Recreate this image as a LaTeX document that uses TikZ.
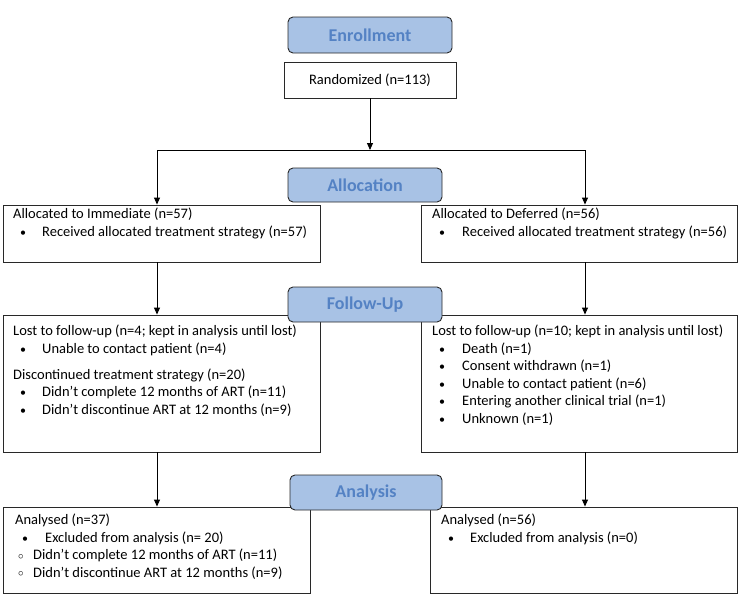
\documentclass[tikz,border=0pt]{standalone}
\usepackage{fontspec}
\setmainfont{Carlito}
\usetikzlibrary{arrows.meta}
\definecolor{lblfill}{RGB}{168,194,229}
\definecolor{lbltext}{RGB}{84,130,196}
\definecolor{edge}{RGB}{40,40,40}
\newcommand\bul{\hspace*{7pt}{\fontsize{12}{12}\selectfont\textbullet}}
\newcommand\cir[1]{\multicolumn{2}{@{}l@{}}{\makebox[18pt][l]{\hspace*{3pt}\raisebox{0.5pt}{\fontsize{11}{11}\selectfont$\circ$}}#1}}
\begin{document}
\begin{tikzpicture}[x=1pt,y=-1pt,
  box/.style={draw=edge,line width=0.9pt,fill=white,inner sep=0pt},
  lbl/.style={draw=edge,line width=0.9pt,fill=lblfill,rounded corners=5pt,
     inner sep=0pt,text=lbltext,font=\fontsize{18}{20}\selectfont\bfseries},
  txt/.style={anchor=base west,inner sep=0pt,font=\fontsize{14.5}{17.5}\selectfont},
  arr/.style={-{Triangle[width=6pt,length=7pt]},line width=0.9pt},
  ln/.style={line width=0.9pt}]
\useasboundingbox (0,0) rectangle (740,600);
% boxes
\node[box,minimum width=172pt,minimum height=36pt,font=\fontsize{14.5}{17.5}\selectfont] (rand) at (370,80) {Randomized (n=113)};
\node[box,minimum width=317pt,minimum height=57pt] (immL) at (161.5,233.5) {};
\node[box,minimum width=316pt,minimum height=57pt] (defR) at (579,233.5) {};
\node[box,minimum width=317pt,minimum height=137pt] (fuL) at (161.5,383.5) {};
\node[box,minimum width=316pt,minimum height=137pt] (fuR) at (579,383.5) {};
\node[box,minimum width=307pt,minimum height=86pt] (anL) at (156.5,550) {};
\node[box,minimum width=307pt,minimum height=86pt] (anR) at (583.5,550) {};
% labels
\node[lbl,minimum width=164pt,minimum height=36pt] (enroll) at (370,35) {Enrollment};
\node[lbl,minimum width=154pt,minimum height=34pt] (alloc) at (365,185) {Allocation};
\node[lbl,minimum width=154pt,minimum height=35pt] (follow) at (365,304.5) {Follow-Up};
\node[lbl,minimum width=152pt,minimum height=35pt] (analysis) at (366,492.5) {Analysis};
% texts
\node[txt] (timm) at (13,218.5) {\begin{tabular}[t]{@{}p{29pt}@{}l@{}}
\multicolumn{2}{@{}l@{}}{Allocated to Immediate (n=57)}\\
\bul & Received allocated treatment strategy (n=57)
\end{tabular}};
\node[txt] (tdef) at (432,218.5) {\begin{tabular}[t]{@{}p{30pt}@{}l@{}}
\multicolumn{2}{@{}l@{}}{Allocated to Deferred (n=56)}\\
\bul & Received allocated treatment strategy (n=56)
\end{tabular}};
\node[txt] (tful) at (13,335.5) {\begin{tabular}[t]{@{}p{29pt}@{}l@{}}
\multicolumn{2}{@{}l@{}}{Lost to follow-up (n=4; kept in analysis until lost)}\\
\bul & Unable to contact patient (n=4)\\[8.5pt]
\multicolumn{2}{@{}l@{}}{Discontinued treatment strategy (n=20)}\\
\bul & Didn’t complete 12 months of ART (n=11)\\
\bul & Didn’t discontinue ART at 12 months (n=9)
\end{tabular}};
\node[txt] (tfur) at (432,335.5) {\begin{tabular}[t]{@{}p{30pt}@{}l@{}}
\multicolumn{2}{@{}l@{}}{Lost to follow-up (n=10; kept in analysis until lost)}\\
\bul & Death (n=1)\\
\bul & Consent withdrawn (n=1)\\
\bul & Unable to contact patient (n=6)\\
\bul & Entering another clinical trial (n=1)\\
\bul & Unknown (n=1)
\end{tabular}};
\node[txt] (tanl) at (15,524.5) {\begin{tabular}[t]{@{}p{30pt}@{}l@{}}
\multicolumn{2}{@{}l@{}}{Analysed (n=37)}\\
\bul & Excluded from analysis (n= 20)\\
\cir{Didn’t complete 12 months of ART (n=11)}\\
\cir{Didn’t discontinue ART at 12 months (n=9)}
\end{tabular}};
\node[txt] (tanr) at (441,524.5) {\begin{tabular}[t]{@{}p{29pt}@{}l@{}}
\multicolumn{2}{@{}l@{}}{Analysed (n=56)}\\
\bul & Excluded from analysis (n=0)
\end{tabular}};
% connectors
\coordinate (xl) at (157,0);
\coordinate (xr) at (585,0);
\coordinate (split) at (370,150);
\draw[arr] (rand.south) -- (split);
\draw[ln] (split -| xl) -- (split -| xr);
\draw[arr] (split -| xl) -- (immL.north -| xl);
\draw[arr] (split -| xr) -- (defR.north -| xr);
\draw[arr] (immL.south -| xl) -- (fuL.north -| xl);
\draw[arr] (defR.south -| xr) -- (fuR.north -| xr);
\draw[arr] (fuL.south -| xl) -- (anL.north -| xl);
\draw[arr] (fuR.south -| xr) -- (anR.north -| xr);
\end{tikzpicture}
\end{document}
